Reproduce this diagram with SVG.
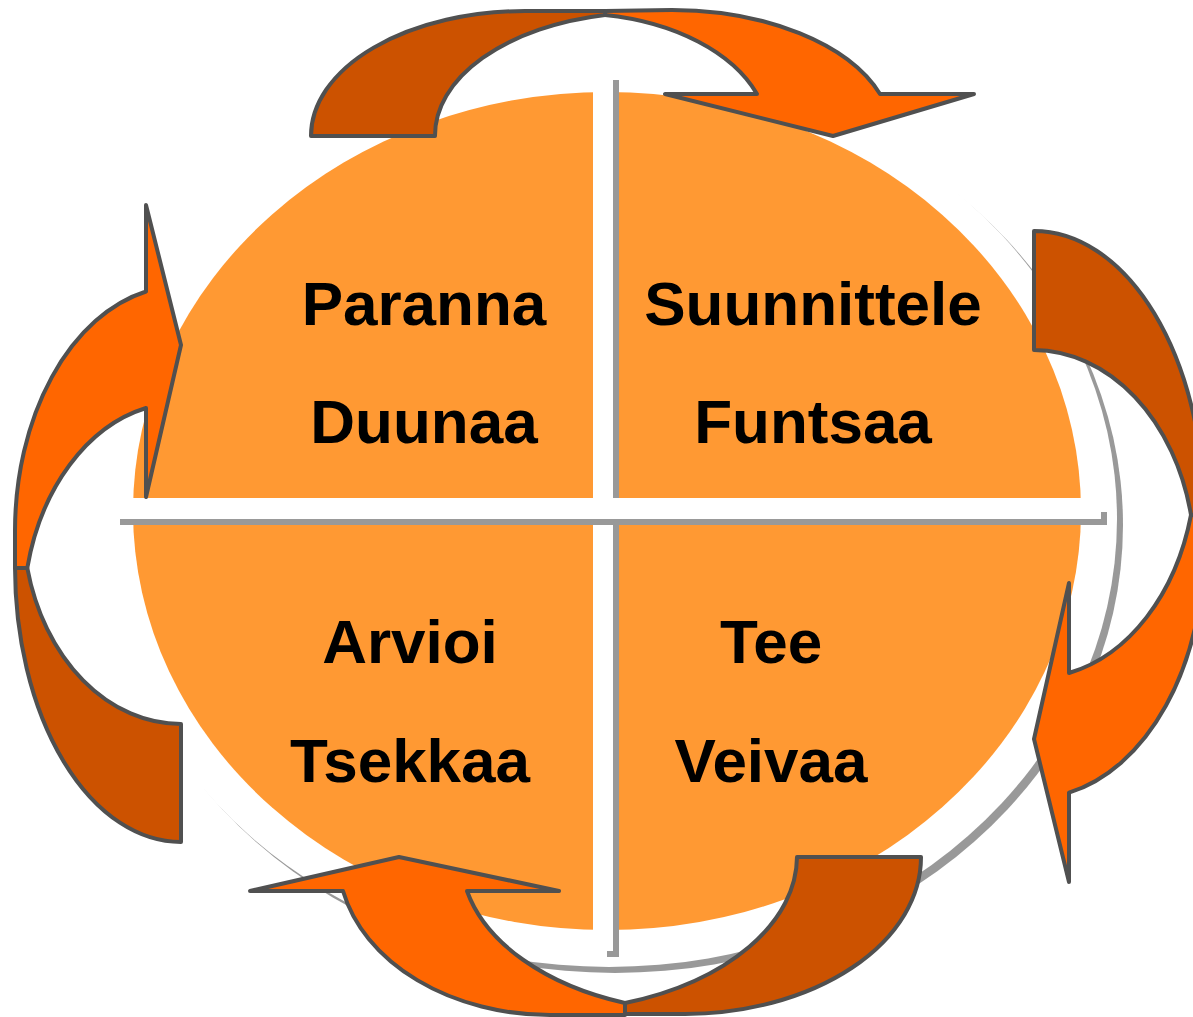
<svg xmlns="http://www.w3.org/2000/svg" width="1193" height="1017" viewBox="0 0 1193 1017">
<style>
.q{fill:#FF9933}
.lbl{font-family:"Liberation Sans",Arial,sans-serif;font-weight:bold;font-size:62px;fill:#000000;text-anchor:middle}
.shadow{fill:#999999}
.arr path{stroke:#505050;stroke-width:4;stroke-linejoin:round}
.dk{fill:#CC5200}
.lt{fill:#FF6600}
</style>
<defs>
<clipPath id="disc"><ellipse cx="607" cy="511" rx="474" ry="419"/></clipPath>
</defs>
<rect width="1193" height="1017" fill="#ffffff"/>
<g id="disc-shadow">
<ellipse cx="615" cy="525" rx="508" ry="448" fill="#999999"/>
<ellipse cx="609" cy="519" rx="508" ry="448" fill="#ffffff"/>
</g>
<g id="node-paranna">
<rect class="q" x="0" y="0" width="593" height="498" clip-path="url(#disc)"/>
<text class="lbl" x="424" y="325">Paranna</text>
<text class="lbl" x="424" y="443">Duunaa</text>
</g>
<g id="node-suunnittele">
<rect class="q" x="613" y="0" width="580" height="498" clip-path="url(#disc)"/>
<text class="lbl" x="813" y="325">Suunnittele</text>
<text class="lbl" x="813" y="443">Funtsaa</text>
</g>
<g id="node-arvioi">
<rect class="q" x="0" y="519" width="593" height="498" clip-path="url(#disc)"/>
<text class="lbl" x="410" y="663">Arvioi</text>
<text class="lbl" x="410" y="782">Tsekkaa</text>
</g>
<g id="node-tee">
<rect class="q" x="613" y="519" width="580" height="498" clip-path="url(#disc)"/>
<text class="lbl" x="771" y="663">Tee</text>
<text class="lbl" x="771" y="782">Veivaa</text>
</g>
<g id="cross-shadow" class="shadow">
<rect x="613" y="80" width="6" height="418"/>
<rect x="613" y="519" width="6" height="438"/>
<rect x="607" y="951" width="12" height="6"/>
<rect x="120" y="519" width="987" height="6"/>
<rect x="1101" y="512" width="6" height="13"/>
</g>
<g id="connectors" class="arr">
<g id="arrow-top">
<path class="dk" d="M311,136 A214,125 0 0 1 525,11 L605,11 L605,15 A213,123 0 0 0 435,136 Z"/>
<path class="lt" d="M605,15 L605,11 L672,10 A221,126 0 0 1 880,94 L974,94 L833,136 L665,94 L757,94 A195,123 0 0 0 605,15 Z"/>
</g>
<g id="arrow-right">
<path class="dk" d="M1034,231 A170,281 0 0 1 1204,512 L1204,515 L1191,515 A162,210 0 0 0 1034,350 Z"/>
<path class="lt" d="M1191,515 L1204,515 L1204,548 A170,250 0 0 1 1069,792.6 L1069,882 L1034,739 L1069,583 L1069,673 A162,217 0 0 0 1191,515 Z"/>
</g>
<g id="arrow-bottom">
<path class="dk" d="M921,857 A237,157 0 0 1 685,1014 L625,1014 L625,1003 A255,155 0 0 0 797,857 Z"/>
<path class="lt" d="M625,1003 L625,1015 L550,1015 A212,158 0 0 1 343,891 L250,891 L399,857 L559,891 L467,891 A247,155 0 0 0 625,1003 Z"/>
</g>
<g id="arrow-left">
<path class="dk" d="M181,842 A166,275 0 0 1 15,567 L15,568 L27.3,568 A158,203 0 0 0 181,724 Z"/>
<path class="lt" d="M27.3,568 L15,568 L15,531 A166,245 0 0 1 146,291.5 L146,205 L181,345 L146,497 L146,408 A158,213 0 0 0 27.3,568 Z"/>
</g>
</g>
</svg>
